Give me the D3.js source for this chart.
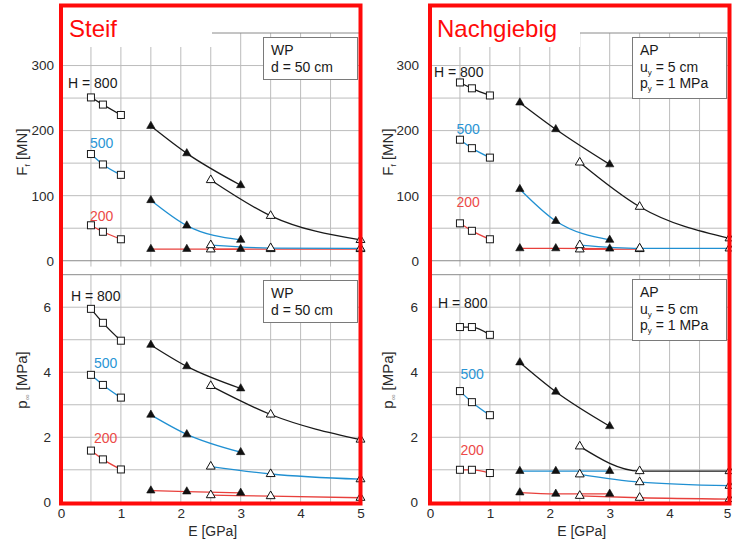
<!DOCTYPE html>
<html><head><meta charset="utf-8">
<script src="https://cdn.jsdelivr.net/npm/d3@7"></script>
<style>body{margin:0;background:#fff}svg{display:block}</style>
</head><body><svg id="c" width="732" height="544"></svg>
<script>
// ---------------- data ----------------
const heightLabels = ["H = 800", "500", "200"];
const eSquare = [0.5, 0.7, 1.0];
const eTriFilled = [1.5, 2.1, 3.0];
const eTriOpen = [2.5, 3.5, 5.0];
const xTicks = [0, 1, 2, 3, 4, 5];
const forceTicks = [0, 100, 200, 300];
const pressureTicks = [0, 2, 4, 6];

// Steif – F_f [MN]  (rows: H = 800, 500, 200)
const steifF_square    = [[251, 240, 224], [164, 148, 132], [54.5, 44.5, 33]];
const steifF_triFilled = [[207, 165, 116], [93, 54, 32], [18, 18, 18]];
const steifF_triOpen   = [[124, 69, 32], [24, 19.5, 19], [17.5, 18, 18]];
// Steif – p∞ [MPa]
const steifP_square    = [[5.95, 5.52, 4.97], [3.92, 3.61, 3.22], [1.59, 1.32, 1.01]];
const steifP_triFilled = [[4.84, 4.18, 3.50], [2.69, 2.09, 1.54], [0.36, 0.33, 0.29]];
const steifP_triOpen   = [[3.58, 2.70, 1.93], [1.10, 0.87, 0.71], [0.22, 0.19, 0.14]];
// Nachgiebig – F_f [MN]
const nachF_square     = [[274, 265, 254], [186, 173, 158.5], [57.5, 46, 33]];
const nachF_triFilled  = [[243, 202, 148], [110, 61, 32], [19, 19, 18.5]];
const nachF_triOpen    = [[151, 83, 34.5], [24, 19, 19], [17.5, 18, null]];
// Nachgiebig – p∞ [MPa]
const nachP_square     = [[5.39, 5.39, 5.15], [3.42, 3.08, 2.68], [1.00, 1.00, 0.90]];
const nachP_triFilled  = [[4.30, 3.40, 2.34], [0.96, 0.96, 0.96], [0.30, 0.26, 0.26]];
const nachP_triOpen    = [[1.72, 0.96, 0.96], [0.86, 0.62, 0.51], [0.20, 0.14, 0.10]];

const titles = ["Steif", "Nachgiebig"];
const legendWP = ["WP", "d = 50 cm"];
const legendAP = ["AP", ["u", "y", " = 5 cm"], ["p", "y", " = 1 MPa"]];

// ---------------- styles ----------------
const FONT = "'Liberation Sans', Arial, Helvetica, sans-serif";
const seriesColors = ["#1a1a1a", "#2090d2", "#e8403c"];
const labelColors = ["#1a1a1a", "#2a95d5", "#ec4a48"];
const GRID = "#bcbcbc";
const AXISLINE = "#8a8a8a";
const RED = "#ff0a0a";

const svg = d3.select("#c");
svg.append("rect").attr("width", 732).attr("height", 544).attr("fill", "#fff");

const cols = [
  {x: [61, 360.5], tickPadTop: 7, tickPadBot: 10, yTitleX: 22, boxX: 263, boxW: 94,
   titleBox: [63, 7, 149, 40], titleX: 69,
   top: {sq: steifF_square, tf: steifF_triFilled, to: steifF_triOpen,
         labels: [[68, 88], [90, 148], [90, 220.5]], legend: legendWP, legendY: 37},
   bot: {sq: steifP_square, tf: steifP_triFilled, to: steifP_triOpen,
         labels: [[71, 301], [94, 368], [94, 443]], legend: legendWP, legendY: 280}},
  {x: [430, 729.5], tickPadTop: 11, tickPadBot: 12, yTitleX: 388, boxX: 632, boxW: 94,
   titleBox: [432, 7, 148, 40], titleX: 437,
   top: {sq: nachF_square, tf: nachF_triFilled, to: nachF_triOpen,
         labels: [[434, 76.5], [456.5, 134], [456.5, 207]], legend: legendAP, legendY: 37},
   bot: {sq: nachP_square, tf: nachP_triFilled, to: nachP_triOpen,
         labels: [[438, 307.5], [460.5, 379], [460.5, 455]], legend: legendAP, legendY: 279}}
];

const yTop = d3.scaleLinear().domain([-9, 350]).range([266.6, 33]);
const yBot = d3.scaleLinear().domain([0, 7]).range([502.3, 274.7]);

function drawGrid(g, x, y, gridVals) {
  const [y0, y1] = y.range();
  const xs = d3.range(0, 5.01, 0.5);
  g.selectAll(null).data(xs).join("line")
    .attr("x1", d => x(d)).attr("x2", d => x(d))
    .attr("y1", y0).attr("y2", y1)
    .attr("stroke", GRID).attr("stroke-width", 1);
  g.selectAll(null).data(gridVals).join("line")
    .attr("x1", x.range()[0]).attr("x2", x.range()[1])
    .attr("y1", d => y(d)).attr("y2", d => y(d))
    .attr("stroke", GRID).attr("stroke-width", 1);
}

function drawSeries(g, x, y, P) {
  const groups = [[eSquare, P.sq, "sq"], [eTriFilled, P.tf, "tf"], [eTriOpen, P.to, "to"]];
  const line = d3.line().defined(d => d[1] != null)
    .x(d => x(d[0])).y(d => y(d[1])).curve(d3.curveMonotoneX);
  [2, 1, 0].forEach(h => {
    groups.forEach(([es, vals]) => {
      const pts = es.map((e, i) => [e, vals[h][i]]);
      g.append("path").attr("d", line(pts)).attr("fill", "none")
        .attr("stroke", seriesColors[h]).attr("stroke-width", 1.3);
    });
  });
  [2, 1, 0].forEach(h => {
    groups.forEach(([es, vals, kind]) => {
      const pts = es.map((e, i) => [e, vals[h][i]]).filter(d => d[1] != null);
      if (kind === "sq") {
        g.selectAll(null).data(pts).join("rect")
          .attr("x", d => x(d[0]) - 3.5).attr("y", d => y(d[1]) - 3.5)
          .attr("width", 7).attr("height", 7)
          .attr("fill", "#fff").attr("stroke", "#1a1a1a").attr("stroke-width", 1);
      } else {
        const sym = d3.symbol().type(d3.symbolTriangle).size(kind === "tf" ? 30 : 34);
        g.selectAll(null).data(pts).join("path")
          .attr("d", sym)
          .attr("transform", d => `translate(${x(d[0])},${y(d[1])})`)
          .attr("fill", kind === "tf" ? "#111" : "#fff")
          .attr("stroke", "#111").attr("stroke-width", kind === "tf" ? 0.6 : 1);
      }
    });
  });
}

function drawLegend(g, bx, by, bw, lines) {
  const bh = lines.length === 2 ? 42 : 61;
  g.append("rect").attr("x", bx + 0.5).attr("y", by + 0.5).attr("width", bw).attr("height", bh)
    .attr("fill", "#fff").attr("stroke", "#7a7a7a").attr("stroke-width", 1);
  lines.forEach((ln, i) => {
    const t = g.append("text").attr("x", bx + 8).attr("y", by + 18 + i * 16.7)
      .attr("font-family", FONT).attr("font-size", 14).attr("fill", "#1a1a1a");
    if (typeof ln === "string") t.text(ln);
    else {
      t.append("tspan").text(ln[0]);
      t.append("tspan").attr("font-size", 8).attr("dy", 3).text(ln[1]);
      t.append("tspan").attr("dy", -3).text(ln[2]);
    }
  });
}

function drawHLabels(g, pos) {
  pos.forEach((p, i) => {
    g.append("text").attr("x", p[0]).attr("y", p[1])
      .attr("font-family", FONT).attr("font-size", 14).attr("fill", labelColors[i])
      .text(heightLabels[i]);
  });
}

cols.forEach((c, ci) => {
  const x = d3.scaleLinear().domain([0, 5]).range(c.x);
  const g = svg.append("g");

  drawGrid(g, x, yTop, d3.range(50, 301, 50));
  drawGrid(g, x, yBot, d3.range(1, 7, 1));
  [yTop(350), yTop(0), yBot(7)].forEach(yy => {
    g.append("line").attr("x1", c.x[0]).attr("x2", c.x[1]).attr("y1", yy).attr("y2", yy)
      .attr("stroke", AXISLINE).attr("stroke-width", 1);
  });

  g.append("rect").attr("x", c.titleBox[0]).attr("y", c.titleBox[1])
    .attr("width", c.titleBox[2]).attr("height", c.titleBox[3]).attr("fill", "#fff");
  g.append("text").attr("x", c.titleX).attr("y", 37)
    .attr("font-family", FONT).attr("font-size", 24).attr("fill", RED).text(titles[ci]);

  drawSeries(g.append("g"), x, yTop, c.top);
  drawSeries(g.append("g"), x, yBot, c.bot);

  const ayT = g.append("g").attr("transform", `translate(${c.x[0]},0)`)
    .call(d3.axisLeft(yTop).tickValues(forceTicks).tickFormat(d3.format("d")).tickSize(0).tickPadding(c.tickPadTop));
  const ayB = g.append("g").attr("transform", `translate(${c.x[0]},0)`)
    .call(d3.axisLeft(yBot).tickValues(pressureTicks).tickFormat(d3.format("d")).tickSize(0).tickPadding(c.tickPadBot));
  const axB = g.append("g").attr("transform", `translate(0,${yBot(0)})`)
    .call(d3.axisBottom(x).tickValues(xTicks).tickFormat(d3.format("d")).tickSize(0).tickPadding(0));
  [ayT, ayB, axB].forEach(a => {
    a.select(".domain").remove();
    a.selectAll("text").attr("font-family", FONT).attr("font-size", 13.5).attr("fill", "#2a2a2a");
  });
  axB.selectAll("text").attr("dy", null).attr("y", 15.7)
    .attr("dx", d => (ci === 1 && d === 5) ? -2.5 : 0);

  const tF = g.append("text").attr("transform", `translate(${c.yTitleX + 5},152) rotate(-90)`)
    .attr("text-anchor", "middle").attr("font-family", FONT).attr("font-size", 15).attr("fill", "#2a2a2a");
  tF.append("tspan").text("F");
  tF.append("tspan").attr("font-size", 8).attr("dy", 3).text("f");
  tF.append("tspan").attr("dy", -3).text(" [MN]");
  const tP = g.append("text").attr("transform", `translate(${c.yTitleX + 5},380) rotate(-90)`)
    .attr("text-anchor", "middle").attr("font-family", FONT).attr("font-size", 15).attr("fill", "#2a2a2a");
  tP.append("tspan").text("p");
  tP.append("tspan").attr("font-size", 8).attr("dy", 3).attr("fill", "#9a9a9a").text("∞");
  tP.append("tspan").attr("dy", -3).text(" [MPa]");
  g.append("text").attr("x", (c.x[0] + c.x[1]) / 2 + 2).attr("y", 536)
    .attr("text-anchor", "middle").attr("font-family", FONT).attr("font-size", 14).attr("fill", "#2a2a2a")
    .text("E [GPa]");

  drawHLabels(g, c.top.labels);
  drawHLabels(g, c.bot.labels);

  drawLegend(g, c.boxX, c.top.legendY, c.boxW, c.top.legend);
  drawLegend(g, c.boxX, c.bot.legendY, c.boxW, c.bot.legend);

  g.append("rect").attr("x", c.x[0]).attr("y", 5.5)
    .attr("width", c.x[1] - c.x[0]).attr("height", 498)
    .attr("fill", "none").attr("stroke", RED).attr("stroke-width", 4);
});
</script></body></html>
